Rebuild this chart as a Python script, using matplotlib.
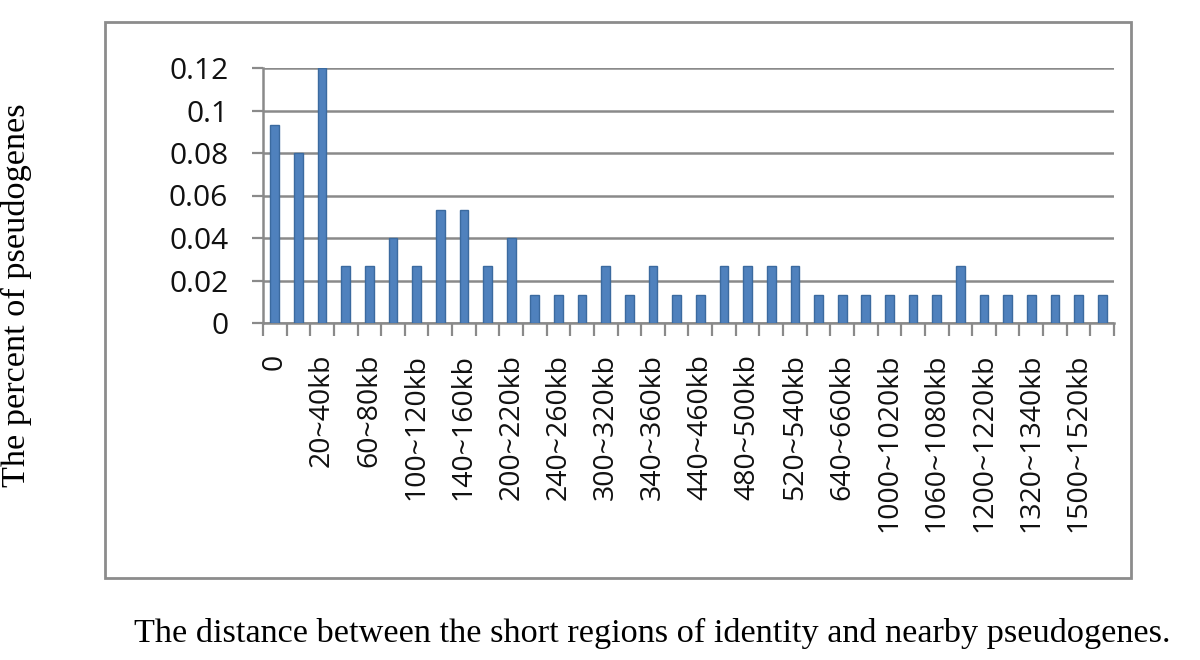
import matplotlib
matplotlib.use("Agg")
import matplotlib.pyplot as plt
from matplotlib.patches import Rectangle
import numpy as np

categories = [
    "0", "0~20kb", "20~40kb", "40~60kb", "60~80kb", "80~100kb",
    "100~120kb", "120~140kb", "140~160kb", "160~180kb", "200~220kb", "220~240kb",
    "240~260kb", "260~280kb", "300~320kb", "320~340kb", "340~360kb", "400~420kb",
    "440~460kb", "460~480kb", "480~500kb", "500~520kb", "520~540kb", "560~580kb",
    "640~660kb", "700~720kb", "1000~1020kb", "1040~1060kb", "1060~1080kb", "1100~1120kb",
    "1200~1220kb", "1240~1260kb", "1320~1340kb", "1400~1420kb", "1500~1520kb", "1540~1560kb",
]
values = [
    0.093, 0.080, 0.120, 0.027, 0.027, 0.040,
    0.027, 0.053, 0.053, 0.027, 0.040, 0.013,
    0.013, 0.013, 0.027, 0.013, 0.027, 0.013,
    0.013, 0.027, 0.027, 0.027, 0.027, 0.013,
    0.013, 0.013, 0.013, 0.013, 0.013, 0.027,
    0.013, 0.013, 0.013, 0.013, 0.013, 0.013,
]
yticks = [0, 0.02, 0.04, 0.06, 0.08, 0.1, 0.12]
ytick_labels = ["0", "0.02", "0.04", "0.06", "0.08", "0.1", "0.12"]
xlabel = "The distance between the short regions of identity and nearby pseudogenes."
ylabel = "The percent of pseudogenes"

W, H = 1200, 660
fig = plt.figure(figsize=(W / 100, H / 100), dpi=100)
fig.patch.set_facecolor("white")

# outer chart frame
fig.patches.append(Rectangle((105 / W, 1 - 578 / H), (1131 - 105) / W, (578 - 22) / H,
                             transform=fig.transFigure, fill=False,
                             edgecolor="#8c8c8c", linewidth=2))

ax = fig.add_axes([263 / W, 1 - 323 / H, (1114 - 263) / W, (323 - 68) / H])
x = np.arange(len(values))
ax.bar(x, values, width=0.37, color="#4F81BD", edgecolor="#3B6A9F", linewidth=1, zorder=3)

ax.set_xlim(-0.5, len(values) - 0.5)
ax.set_ylim(0, 0.12)
ax.set_yticks(yticks)
ax.set_yticklabels(ytick_labels)
ax.yaxis.grid(True, color="#8a8a8a", linewidth=1.8, zorder=0)
ax.set_axisbelow(True)

ax.set_xticks(x[::2])
ax.set_xticklabels(categories[::2], rotation=90, va="top", ha="center")
ax.set_xticks(np.arange(-0.5, len(values), 1.0), minor=True)
ax.tick_params(axis="x", which="major", length=0, pad=22, labelsize=20.5)
ax.tick_params(axis="x", which="minor", length=9, width=1.6, color="#8a8a8a")
ax.tick_params(axis="y", which="major", length=8, width=1.6, color="#8a8a8a",
               pad=17, labelsize=21.5)
for lbl in ax.get_xticklabels() + ax.get_yticklabels():
    lbl.set_fontfamily("Open Sans")
    lbl.set_color("#111111")

for side in ["top", "right"]:
    ax.spines[side].set_visible(False)
for side in ["left", "bottom"]:
    ax.spines[side].set_color("#8a8a8a")
    ax.spines[side].set_linewidth(1.8)

fig.text(652 / W, 1 - 633 / H, xlabel, ha="center", va="center",
         fontsize=24.7, family="Liberation Serif")
fig.text(16 / W, 1 - 295 / H, ylabel, ha="center", va="center", rotation=90,
         fontsize=24.7, family="Liberation Serif")

fig.savefig("out.png", dpi=100)
